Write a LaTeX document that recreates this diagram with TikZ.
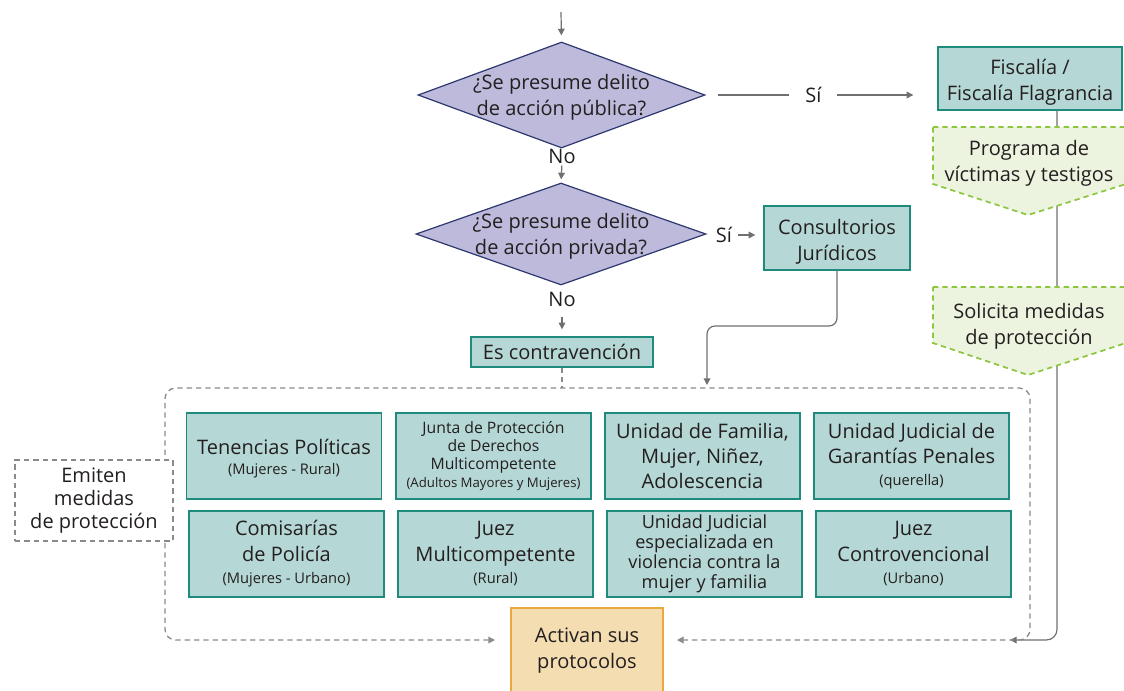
\documentclass[tikz,border=0pt]{standalone}
\usepackage{fontspec}
\setmainfont{Open Sans}
\usetikzlibrary{shapes.geometric,shapes.misc,arrows.meta}
\definecolor{dfill}{HTML}{BDBADB}
\definecolor{dline}{HTML}{2E3770}
\definecolor{tfill}{HTML}{B5D7D5}
\definecolor{tline}{HTML}{1E8B7D}
\definecolor{gfill}{HTML}{ECF3DF}
\definecolor{gline}{HTML}{8DC63F}
\definecolor{afill}{HTML}{F4DDB0}
\definecolor{aline}{HTML}{EAA93A}
\definecolor{arrc}{HTML}{707070}
\definecolor{dashc}{HTML}{8A8A8A}
\definecolor{ink}{HTML}{231F20}
\newcommand\subf{\fontsize{11}{12}\selectfont}
\begin{document}
\begin{tikzpicture}[x=0.75pt,y=-0.75pt,
  font=\fontsize{15}{19.5}\selectfont, text=ink,
  tip/.tip={Triangle[length=5pt,width=5pt]},
  arw/.style={draw=arrc, line width=0.9pt, -tip},
  dsh/.style={draw=dashc, line width=1pt, dash pattern=on 4pt off 3pt},
  dia/.style={diamond, draw=dline, fill=dfill, line width=0.9pt, inner sep=0pt, aspect=2.7},
  tbox/.style={rectangle, draw=tline, fill=tfill, line width=1pt, align=center, inner sep=1pt,
               minimum width=146.25pt, minimum height=64.5pt},
  txt/.style={align=center, inner sep=0pt},
  pent/.style={draw=gline, fill=gfill, line width=1.3pt, dash pattern=on 4pt off 3pt}]
\useasboundingbox (0,0) rectangle (1124,690);

% coordinates
\coordinate (top) at (561,12);
\coordinate (btl) at (165,388);
\coordinate (bbr) at (1030,640);
\coordinate (arrowL) at (495,640);
\coordinate (arrowR) at (677,640);
\coordinate (rarr) at (1010,640);

% decisions
\node[dia, minimum width=215.25pt, minimum height=79.5pt] (d1) at (561.5,95) {};
\node[txt] (d1t) at (561.5,97) {¿Se presume delito\\de acción pública?};
\node[dia, minimum width=217.5pt, minimum height=76.5pt] (d2) at (561,234) {};
\node[txt] (d2t) at (561,236) {¿Se presume delito\\de acción privada?};

\draw[arw, shorten >=4.5pt] (top) -- (d1.north);

% boxes
\node[tbox, minimum width=138pt, minimum height=47.25pt] (fisc) at (1030,78.5) {\rule{0pt}{17pt}Fiscalía /\\Fiscalía Flagrancia};
\node[tbox, minimum width=109.5pt, minimum height=48pt] (cons) at (837,238) {\rule{0pt}{17pt}Consultorios\\Jurídicos};
\node[tbox, minimum width=136.5pt, minimum height=22.5pt, inner sep=0pt] (contra) at (562,352) {Es contravención};

\draw[arw, shorten <=9pt, shorten >=18pt] (d1.east) -- node[pos=0.465, fill=white, inner xsep=12pt, inner ysep=2pt] (si1) {Sí} (d1.east -| fisc.west);

\node[txt] (si2) at (724,235) {Sí};
\draw[arw, shorten <=4.5pt, shorten >=6pt] (si2.east) -- (si2.east -| cons.west);

\node[txt] (no1) at (562,156) {No};
\draw[arw, shorten <=1.5pt, shorten >=2.25pt] (no1.south) -- (d2.north);
\node[txt] (no2) at (562,299) {No};
\draw[arw, shorten <=8pt, shorten >=5.25pt] (no2.south) -- (contra.north);

% right solid line
\draw[arw, rounded corners=8pt] ([xshift=20.25pt]fisc.south) |- (rarr);

% pentagons
\draw[pent] (933,127) -- (1126,127) -- (1126,184) -- (1028,215) -- (933,184) -- cycle;
\node[txt] (prog) at (1029,163) {Programa de\\víctimas y testigos};
\draw[pent] (933,287) -- (1126,287) -- (1126,343) -- (1028,375) -- (933,343) -- cycle;
\node[txt] (soli) at (1029,326) {Solicita medidas\\de protección};

% consultorios to group
\draw[arw, rounded corners=6pt] (cons.south) |- (707,326) -- (707,385);

% big dashed group
\draw[dsh] (contra.south) -- (contra.south |- btl);
\draw[dsh, rounded corners=8pt, tip-tip] (arrowL) -| (btl) -| (bbr) -- (arrowR);

% grid
\node[tbox] (ten) at (284,456) {\rule{0pt}{16pt}Tenencias Políticas\\[-4.5pt]{\subf(Mujeres - Rural)}};
\node[tbox, font=\fontsize{11.8}{13.5}\selectfont] (jun) at (493.5,456) {Junta de Protección\\de Derechos\\Multicompetente\\{\fontsize{9.9}{12}\selectfont(Adultos Mayores y Mujeres)}};
\node[tbox, font=\fontsize{15}{18.75}\selectfont] (fam) at (702.5,456) {Unidad de Familia,\\Mujer, Niñez,\\Adolescencia};
\node[tbox] (gar) at (911.5,456) {Unidad Judicial de\\[-0.75pt]Garantías Penales\\[-3pt]{\subf(querella)}};
\node[tbox] (com) at (286.5,554) {Comisarías\\de Policía\\[-3pt]{\subf(Mujeres - Urbano)}};
\node[tbox] (jum) at (495.5,554) {Juez\\Multicompetente\\[-3pt]{\subf(Rural)}};
\node[tbox, font=\fontsize{13.6}{15}\selectfont] (esp) at (704.5,554) {Unidad Judicial\\especializada en\\violencia contra la\\mujer y familia};
\node[tbox] (juc) at (913.5,554) {Juez\\Controvencional\\[-3pt]{\subf(Urbano)}};

% emiten
\node[dsh, fill=white, minimum width=118.5pt, minimum height=60.75pt, align=center, inner sep=0pt,
      font=\fontsize{15}{17}\selectfont] (emit) at (94,500.5) {Emiten\\medidas\\de protección};

% activan
\node[chamfered rectangle, chamfered rectangle corners={north west,north east},
      chamfered rectangle xsep=7pt, chamfered rectangle ysep=8pt,
      draw=aline, fill=afill, line width=1pt, minimum width=114pt, minimum height=72pt, inner sep=0pt] (act) at (587,656) {};
\node[txt] (actt) at (587,651) {Activan sus\\protocolos};
\end{tikzpicture}
\end{document}
